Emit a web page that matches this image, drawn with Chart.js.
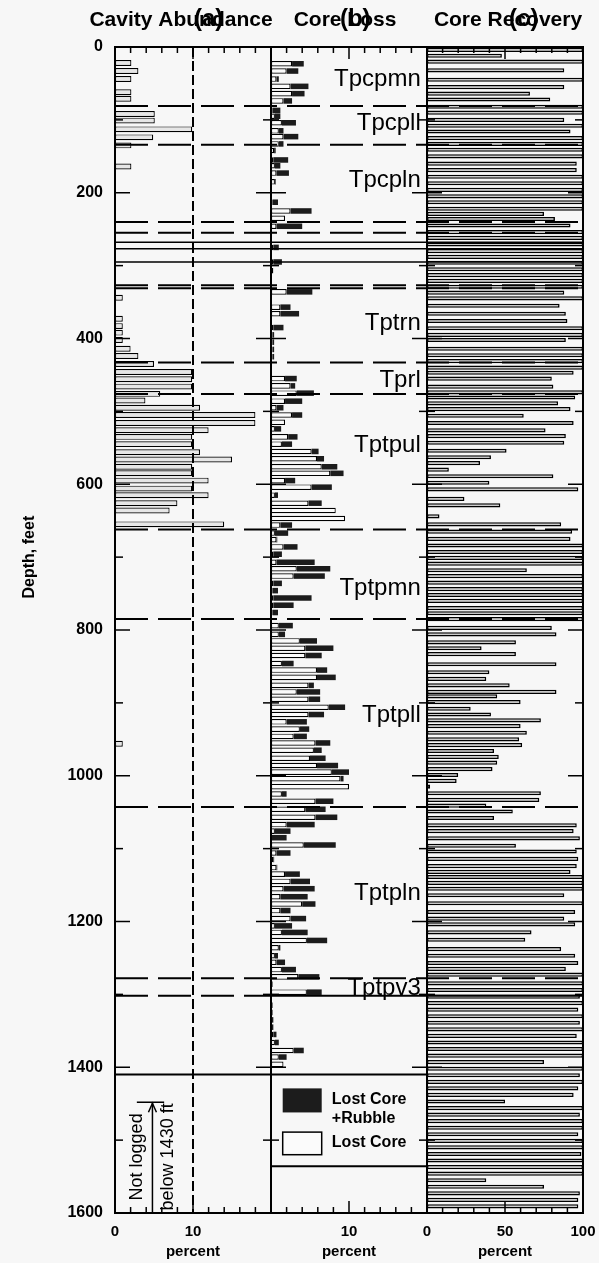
<!DOCTYPE html>
<html>
<head>
<meta charset="utf-8">
<script src="https://cdn.jsdelivr.net/npm/chart.js@4.4.1/dist/chart.umd.min.js"></script>
<style>
  html, body { margin: 0; padding: 0; background: #f7f7f7; }
  #wrap { width: 599px; height: 1263px; }
</style>
</head>
<body>
<div id="wrap"><canvas id="logChart"></canvas></div>
<script>
const FONT = "'Liberation Sans', Arial, Helvetica, sans-serif";

// depth axis, feet
const depthTicks = [0, 200, 400, 600, 800, 1000, 1200, 1400, 1600];
const depthMinorTicks = [100, 300, 500, 700, 900, 1100, 1300, 1500];
const pctMinorTicks = [2, 4, 6, 8, 12, 14, 16, 18];
const recMinorTicks = [10, 20, 30, 40, 60, 70, 80, 90];

// (a) cavity abundance, percent
const cavityDepth = [22, 33, 44, 62, 71, 92, 101, 113, 124, 135, 164, 344, 373, 383, 392, 402, 414, 424, 435, 446,
  456, 466, 476, 485, 495, 505, 516, 526, 535, 545, 556, 566, 576, 585, 595, 606, 615, 626, 636, 655, 956];
const cavityPct = [2.1, 3.0, 2.1, 2.1, 2.1, 5.1, 5.1, 9.9, 4.9, 2.1, 2.1, 1.0, 1.0, 1.0, 1.0, 1.0, 2.0, 3.0, 5.0, 9.9,
  9.9, 9.9, 5.8, 3.9, 10.9, 18.0, 18.0, 12.0, 9.9, 9.9, 10.9, 15.0, 9.9, 9.9, 12.0, 9.9, 12.0, 8.0, 7.0, 14.0, 1.0];

// (b) core loss, percent (lost core, and lost core + rubble as running total)
const lossDepth = [23, 33, 44, 54, 64, 74, 87, 95, 104, 115, 123, 133, 142, 155, 163, 173, 185, 213, 225, 235,
  246, 275, 295, 307, 336, 357, 366, 385, 395, 405, 415, 425, 455, 465, 475, 486, 495, 505, 515, 524,
  535, 545, 555, 565, 576, 585, 595, 604, 615, 626, 636, 647, 656, 667, 676, 686, 696, 707, 716, 726,
  736, 746, 756, 766, 776, 794, 806, 815, 825, 835, 846, 855, 865, 876, 885, 895, 906, 916, 926, 936,
  946, 955, 965, 976, 986, 995, 1004, 1015, 1025, 1035, 1046, 1057, 1067, 1076, 1085, 1095, 1106, 1115, 1126, 1135,
  1145, 1155, 1166, 1176, 1185, 1196, 1206, 1215, 1226, 1236, 1247, 1256, 1266, 1276, 1286, 1297, 1315, 1325, 1335, 1345,
  1355, 1366, 1377, 1386, 1396];
const lostCore = [2.7, 2.0, 0.7, 2.5, 2.7, 1.6, 0.2, 0.5, 1.4, 1.0, 1.6, 1.0, 0.4, 0.3, 0.5, 0.7, 0.5, 0.2, 2.5, 1.8,
  0.7, 0.3, 0.3, 0.3, 2.0, 1.2, 1.2, 0.3, 0.2, 0.2, 0.2, 0.2, 1.8, 2.5, 3.3, 1.8, 0.7, 2.7, 1.8, 0.5,
  2.2, 1.4, 5.2, 5.9, 6.5, 7.6, 1.8, 5.2, 0.5, 4.8, 8.3, 9.5, 1.2, 0.5, 0.7, 1.6, 0.3, 0.7, 3.3, 2.9,
  0.3, 0.2, 0.3, 0.3, 0.2, 1.0, 1.0, 3.7, 4.4, 4.4, 1.4, 5.9, 5.9, 4.8, 3.3, 4.8, 7.4, 4.8, 2.0, 3.7,
  2.9, 5.7, 5.5, 5.0, 5.9, 7.8, 8.9, 10.0, 1.4, 5.7, 4.4, 5.7, 2.0, 0.5, 0.1, 4.2, 0.7, 0.3, 0.7, 1.8,
  2.5, 1.6, 1.2, 4.0, 1.2, 2.5, 0.5, 1.4, 4.6, 1.0, 0.5, 0.7, 1.4, 3.5, 0.1, 4.6, 0.1, 0.1, 0.1, 0.1,
  0.3, 0.5, 2.9, 1.0, 1.6];
const lostCoreRubble = [4.2, 3.5, 1.0, 4.8, 4.3, 2.7, 1.2, 1.2, 3.2, 1.6, 3.5, 1.6, 0.6, 2.2, 1.2, 2.3, 0.6, 0.9, 5.2, 1.8,
  4.0, 1.0, 1.4, 0.3, 5.3, 2.5, 3.6, 1.6, 0.4, 0.4, 0.4, 0.4, 3.3, 3.1, 5.5, 4.0, 1.6, 4.0, 1.8, 1.3,
  3.4, 2.7, 6.1, 6.8, 8.5, 9.3, 3.1, 7.8, 0.9, 6.5, 8.3, 9.5, 2.7, 2.2, 0.8, 3.4, 1.4, 5.6, 7.6, 6.9,
  1.4, 0.9, 5.2, 2.9, 0.9, 2.8, 1.8, 5.9, 8.0, 6.5, 2.9, 7.2, 8.3, 5.5, 6.3, 6.3, 9.5, 6.8, 4.6, 4.9,
  4.6, 7.6, 6.5, 7.0, 8.6, 10.0, 9.3, 10.0, 2.0, 8.0, 7.0, 8.5, 5.6, 2.5, 2.0, 8.3, 2.5, 0.4, 0.8, 3.7,
  5.0, 5.6, 4.7, 5.7, 2.5, 4.5, 2.7, 4.7, 7.2, 1.2, 0.9, 1.8, 3.2, 6.2, 0.2, 6.5, 0.2, 0.2, 0.3, 0.3,
  0.7, 1.0, 4.2, 2.0, 1.6];

// (c) core recovery, percent
const recDepth = [4, 12, 20, 32, 45, 55, 64, 72, 82, 90, 100, 108, 116, 125, 133, 141, 150, 160, 169, 178,
  187, 196, 205, 213, 222, 229, 236, 245, 254, 262, 271, 280, 288, 296, 305, 313, 321, 329, 337, 345,
  355, 366, 376, 386, 395, 402, 414, 423, 431, 440, 447, 455, 466, 474, 481, 489, 497, 506, 516, 526,
  534, 543, 554, 563, 571, 580, 589, 598, 607, 620, 629, 644, 655, 665, 675, 684, 693, 701, 709, 718,
  726, 735, 744, 752, 760, 770, 777, 785, 797, 806, 817, 825, 833, 847, 858, 867, 876, 885, 891, 899,
  908, 916, 924, 932, 941, 950, 958, 966, 974, 982, 991, 999, 1007, 1015, 1024, 1033, 1041, 1049, 1058, 1068,
  1076, 1086, 1096, 1104, 1114, 1124, 1132, 1139, 1147, 1155, 1164, 1175, 1187, 1196, 1204, 1215, 1225, 1238, 1247, 1257,
  1265, 1273, 1285, 1294, 1303, 1312, 1321, 1330, 1339, 1348, 1357, 1366, 1375, 1384, 1393, 1402, 1411, 1420, 1429, 1438,
  1447, 1456, 1465, 1474, 1483, 1492, 1501, 1510, 1519, 1528, 1537, 1546, 1555, 1564, 1573, 1582, 1591];
const recPct = [100, 48, 100, 88, 100, 88, 66, 79, 100, 100, 88, 100, 92, 100, 100, 100, 100, 96, 96, 100,
  100, 100, 100, 100, 100, 75, 82, 92, 100, 100, 100, 100, 100, 100, 100, 100, 100, 100, 88, 100,
  85, 89, 90, 100, 100, 89, 100, 100, 100, 100, 94, 80, 81, 100, 95, 84, 92, 62, 94, 76,
  89, 88, 51, 41, 34, 14, 81, 40, 97, 24, 47, 8, 86, 93, 92, 100, 100, 100, 100, 64,
  100, 100, 100, 100, 100, 100, 100, 100, 80, 83, 57, 35, 57, 83, 40, 38, 53, 83, 45, 60,
  28, 41, 73, 60, 64, 59, 61, 43, 46, 45, 42, 20, 19, 2, 73, 72, 38, 55, 43, 96,
  94, 98, 57, 96, 97, 96, 92, 100, 100, 100, 88, 100, 95, 88, 95, 67, 63, 86, 95, 97,
  89, 100, 100, 100, 98, 100, 97, 100, 98, 100, 96, 100, 100, 100, 75, 100, 98, 100, 97, 94,
  50, 100, 98, 100, 100, 97, 100, 100, 99, 100, 100, 100, 38, 75, 98, 97, 97];

// stratigraphic units (labels in panel b) and contacts
const unitNames = ['Tpcpmn', 'Tpcpll', 'Tpcpln', 'Tptrn', 'Tprl', 'Tptpul', 'Tptpmn', 'Tptpll', 'Tptpln', 'Tptpv3'];
const unitLabelDepth = [45, 105, 183, 379, 457, 546, 743, 917, 1162, 1292];
const contactDepth = [81, 134, 240, 255, 327, 331, 433, 476, 662, 785, 1043, 1278];
const solidDepth = [268, 277, 295];

function seg(ctx, x1, y1, x2, y2) {
  ctx.beginPath();
  ctx.moveTo(x1, y1);
  ctx.lineTo(x2, y2);
  ctx.stroke();
}

const logDecor = {
  id: 'logDecor',
  beforeDraw(chart) {
    const { ctx, width, height } = chart;
    ctx.save();
    ctx.fillStyle = '#f7f7f7';
    ctx.fillRect(0, 0, width, height);
    ctx.restore();
  },
  afterDatasetsDraw(chart) {
    const { ctx, chartArea } = chart;
    const y = chart.scales.y, xa = chart.scales.xa, xb = chart.scales.xb, xc = chart.scales.xc;
    const top = chartArea.top, bottom = chartArea.bottom;
    ctx.save();
    ctx.strokeStyle = '#000';
    ctx.fillStyle = '#000';

    // 10 percent guide in (a)
    ctx.lineWidth = 2;
    ctx.setLineDash([10, 4]);
    const x10 = xa.getPixelForValue(10);
    seg(ctx, x10, top, x10, bottom);

    // unit contacts
    ctx.setLineDash([33, 10]);
    contactDepth.forEach(d => {
      const py = y.getPixelForValue(d);
      seg(ctx, xa.left, py, xc.right, py);
    });
    const pv = y.getPixelForValue(1302);
    seg(ctx, xa.left, pv, xa.right, pv);
    ctx.setLineDash([]);
    seg(ctx, xb.left, pv, xc.right, pv);

    ctx.lineWidth = 1.5;
    solidDepth.forEach(d => {
      const py = y.getPixelForValue(d);
      seg(ctx, xa.left, py, xc.right, py);
    });
    ctx.lineWidth = 2;
    const p1410 = y.getPixelForValue(1410);
    seg(ctx, xa.left, p1410, xb.right, p1410);
    const p1536 = y.getPixelForValue(1536);
    seg(ctx, xb.left, p1536, xb.right, p1536);

    // panel frames
    [xa, xb, xc].forEach(s => ctx.strokeRect(s.left, top, s.right - s.left, bottom - top));

    // inward ticks
    ctx.lineWidth = 1.5;
    [xa, xb, xc].forEach((s, k) => {
      const minor = k < 2 ? pctMinorTicks : recMinorTicks;
      const major = k < 2 ? [10] : [50];
      minor.forEach(v => {
        const px = s.getPixelForValue(v);
        seg(ctx, px, top, px, top + 6);
        seg(ctx, px, bottom, px, bottom - 6);
      });
      major.forEach(v => {
        const px = s.getPixelForValue(v);
        seg(ctx, px, top, px, top + 12);
        seg(ctx, px, bottom, px, bottom - 12);
      });
      depthTicks.forEach(d => {
        const py = y.getPixelForValue(d);
        seg(ctx, s.left, py, s.left + 15, py);
        seg(ctx, s.right - 15, py, s.right, py);
      });
      depthMinorTicks.forEach(d => {
        const py = y.getPixelForValue(d);
        seg(ctx, s.left, py, s.left + 8, py);
        seg(ctx, s.right - 8, py, s.right, py);
      });
    });
    ctx.restore();
  },
  afterDraw(chart) {
    const { ctx } = chart;
    const y = chart.scales.y, xa = chart.scales.xa, xb = chart.scales.xb, xc = chart.scales.xc;
    ctx.save();
    ctx.fillStyle = '#000';
    ctx.strokeStyle = '#000';
    ctx.textBaseline = 'middle';

    // panel titles with overlapping letters
    ctx.textAlign = 'center';
    ctx.font = `bold 21px ${FONT}`;
    ctx.fillText('Cavity Abundance', (xa.left + xa.right) / 2 - 12, 20);
    ctx.fillText('Core Loss', (xb.left + xb.right) / 2 - 4, 20);
    ctx.fillText('Core Recovery', (xc.left + xc.right) / 2 + 3, 20);
    ctx.font = `bold 24px ${FONT}`;
    ctx.fillText('(a)', xa.getPixelForValue(12), 19);
    ctx.fillText('(b)', xb.getPixelForValue(10.8), 19);
    ctx.fillText('(c)', xc.getPixelForValue(62), 19);

    // depth title
    ctx.save();
    ctx.font = `bold 16px ${FONT}`;
    ctx.translate(30, y.getPixelForValue(700));
    ctx.rotate(-Math.PI / 2);
    ctx.fillText('Depth, feet', 0, 0);
    ctx.restore();

    // unit names
    ctx.textAlign = 'right';
    ctx.font = `24px ${FONT}`;
    unitNames.forEach((n, i) => ctx.fillText(n, xb.getPixelForValue(19.2), y.getPixelForValue(unitLabelDepth[i])));

    // legend in (b)
    ctx.fillStyle = '#1c1c1c';
    const lx0 = xb.getPixelForValue(1.5), lx1 = xb.getPixelForValue(6.5);
    ctx.fillRect(lx0, y.getPixelForValue(1429), lx1 - lx0, y.getPixelForValue(1462) - y.getPixelForValue(1429));
    ctx.fillStyle = '#fbfbfb';
    ctx.lineWidth = 1.5;
    const wy0 = y.getPixelForValue(1489), wy1 = y.getPixelForValue(1520);
    ctx.fillRect(lx0, wy0, lx1 - lx0, wy1 - wy0);
    ctx.strokeRect(lx0, wy0, lx1 - lx0, wy1 - wy0);
    ctx.fillStyle = '#000';
    ctx.textAlign = 'left';
    ctx.font = `bold 16px ${FONT}`;
    const tx = xb.getPixelForValue(7.8);
    ctx.fillText('Lost Core', tx, y.getPixelForValue(1445));
    ctx.fillText('+Rubble', tx, y.getPixelForValue(1470));
    ctx.fillText('Lost Core', tx, y.getPixelForValue(1504));

    // not logged note in (a)
    const ax = xa.getPixelForValue(4.8);
    const aTop = y.getPixelForValue(1448);
    ctx.lineWidth = 1.5;
    seg(ctx, ax, y.getPixelForValue(1600), ax, aTop);
    seg(ctx, xa.getPixelForValue(2.8), aTop, xa.getPixelForValue(6.3), aTop);
    ctx.beginPath();
    ctx.moveTo(ax - 4, aTop + 10);
    ctx.lineTo(ax, aTop + 1);
    ctx.lineTo(ax + 4, aTop + 10);
    ctx.stroke();
    ctx.font = `18px ${FONT}`;
    ctx.textAlign = 'center';
    [['Not logged', 2.8], ['below 1430 ft', 6.8]].forEach(([t, v]) => {
      ctx.save();
      ctx.translate(xa.getPixelForValue(v), y.getPixelForValue(1523));
      ctx.rotate(-Math.PI / 2);
      ctx.fillText(t, 0, 0);
      ctx.restore();
    });
    ctx.restore();
  }
};

const tickFont = { family: FONT, size: 15, weight: 'bold' };
const pctTitle = { display: true, text: 'percent', color: '#000', font: { family: FONT, size: 15, weight: 'bold' }, padding: { top: 0, bottom: 2 } };

function xPanel(max, labels) {
  return {
    type: 'linear', position: 'bottom', stack: 'panels', stackWeight: 1,
    min: 0, max: max, stacked: false,
    afterBuildTicks: s => { s.ticks = labels.map(v => ({ value: v })); },
    ticks: { color: '#000', font: tickFont, padding: 10, autoSkip: false, maxRotation: 0, callback: v => String(v) },
    grid: { display: false, drawTicks: false },
    border: { display: false },
    title: pctTitle,
    afterFit: s => { s.height = 50; s.paddingLeft = 0; s.paddingRight = 0; }
  };
}

function hiddenDepth() {
  return { type: 'linear', position: 'left', display: false, reverse: true, min: 0, max: 1600, offset: false };
}

new Chart(document.getElementById('logChart').getContext('2d'), {
  type: 'bar',
  data: {
    datasets: [
      {
        label: 'Cavity Abundance', xAxisID: 'xa', yAxisID: 'y',
        data: cavityDepth.map((d, i) => ({ x: cavityPct[i], y: d })),
        backgroundColor: '#e6e6e6', borderColor: '#000', borderWidth: 1.2, borderSkipped: false,
        barPercentage: 0.9
      },
      {
        label: 'Lost Core', xAxisID: 'xb', yAxisID: 'yb',
        data: lossDepth.map((d, i) => ({ x: [0, lostCore[i]], y: d })),
        backgroundColor: '#fbfbfb', borderColor: '#000', borderWidth: 1.2, borderSkipped: false,
        barPercentage: 0.95
      },
      {
        label: 'Lost Core +Rubble', xAxisID: 'xb', yAxisID: 'yb',
        data: lossDepth.map((d, i) => ({ x: [lostCore[i], lostCoreRubble[i]], y: d })),
        backgroundColor: '#1c1c1c', borderColor: '#1c1c1c', borderWidth: 0,
        barPercentage: 0.95
      },
      {
        label: 'Core Recovery', xAxisID: 'xc', yAxisID: 'yc',
        data: recDepth.map((d, i) => ({ x: recPct[i], y: d })),
        backgroundColor: '#cdcdcd', borderColor: '#000', borderWidth: 1.5, borderSkipped: false,
        barPercentage: 0.95
      }
    ]
  },
  options: {
    indexAxis: 'y',
    responsive: true,
    maintainAspectRatio: false,
    animation: false,
    grouped: false,
    categoryPercentage: 1,
    layout: { padding: { left: 0, right: 16, top: 47, bottom: 0 } },
    plugins: { legend: { display: false }, tooltip: { enabled: false } },
    scales: {
      y: {
        type: 'linear', position: 'left', reverse: true, min: 0, max: 1600, offset: false,
        afterBuildTicks: s => { s.ticks = depthTicks.map(v => ({ value: v })); },
        ticks: { color: '#000', font: { family: FONT, size: 16, weight: 'bold' }, padding: 12, callback: v => String(v) },
        grid: { display: false, drawTicks: false },
        border: { display: false },
        afterFit: s => { s.width = 115; }
      },
      yb: hiddenDepth(),
      yc: hiddenDepth(),
      xa: xPanel(20, [0, 10]),
      xb: xPanel(20, [10]),
      xc: xPanel(100, [0, 50, 100])
    }
  },
  plugins: [logDecor]
});
</script>
</body>
</html>
